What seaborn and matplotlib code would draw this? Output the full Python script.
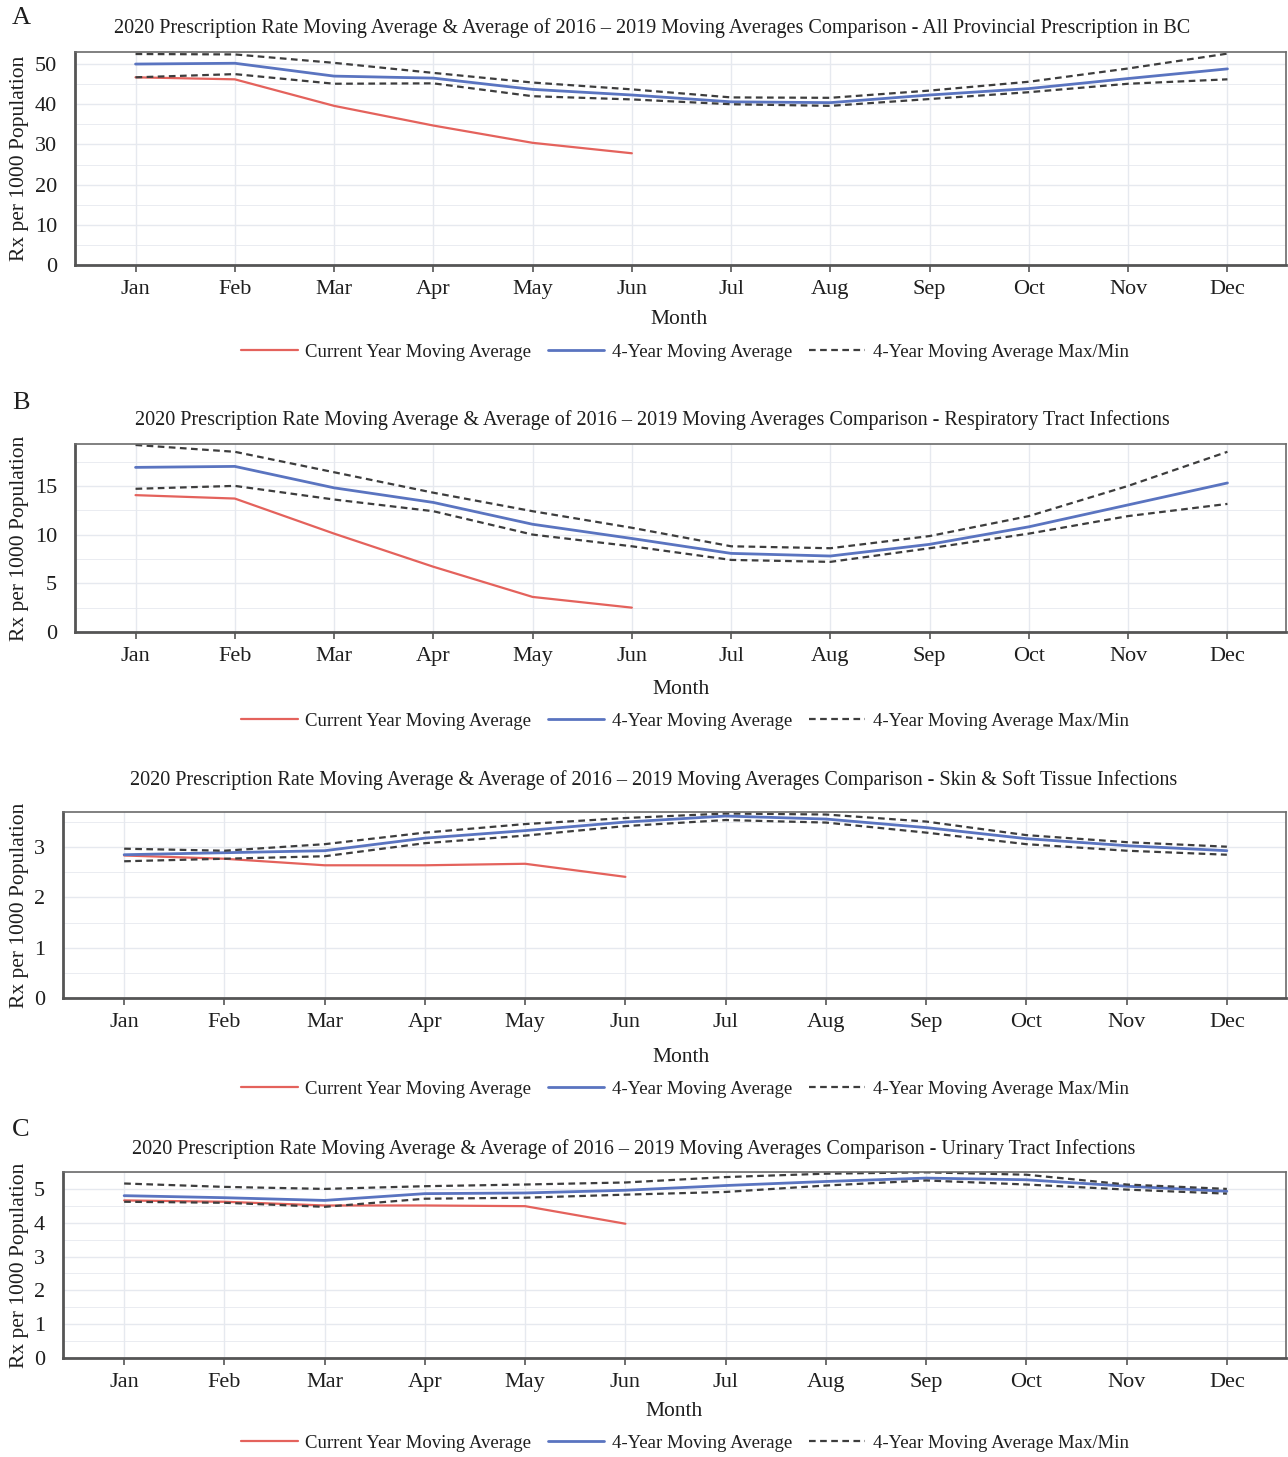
import matplotlib
matplotlib.use("Agg")
import matplotlib.pyplot as plt
from matplotlib.ticker import MultipleLocator
import pandas as pd
import seaborn as sns

months = ["Jan", "Feb", "Mar", "Apr", "May", "Jun",
          "Jul", "Aug", "Sep", "Oct", "Nov", "Dec"]
month_idx = list(range(1, 13))

title_base = "2020 Prescription Rate Moving Average & Average of 2016 \u2013 2019 Moving Averages Comparison - "
panel_names = ["All Provincial Prescription in BC", "Respiratory Tract Infections",
               "Skin & Soft Tissue Infections", "Urinary Tract Infections"]
panel_letters = ["A", "B", "", "C"]

# all provincial
all_current = [46.7, 46.2, 39.6, 34.7, 30.4, 27.8]
all_avg = [50.0, 50.2, 47.0, 46.5, 43.7, 42.3, 40.6, 40.4, 42.3, 43.9, 46.4, 48.8]
all_max = [52.5, 52.4, 50.3, 47.8, 45.4, 43.7, 41.7, 41.6, 43.4, 45.6, 48.9, 52.6]
all_min = [46.7, 47.5, 45.1, 45.2, 42.0, 41.2, 40.0, 39.6, 41.3, 43.0, 45.1, 46.2]

# respiratory
resp_current = [14.05, 13.7, 10.1, 6.7, 3.6, 2.5]
resp_avg = [16.9, 17.0, 14.8, 13.3, 11.06, 9.6, 8.07, 7.8, 9.0, 10.8, 13.05, 15.3]
resp_max = [19.2, 18.5, 16.4, 14.3, 12.4, 10.7, 8.8, 8.6, 9.85, 11.9, 15.0, 18.5]
resp_min = [14.7, 15.0, 13.6, 12.4, 10.0, 8.8, 7.4, 7.2, 8.6, 10.1, 11.9, 13.15]

# skin & soft tissue
skin_current = [2.835, 2.77, 2.64, 2.64, 2.67, 2.41]
skin_avg = [2.85, 2.89, 2.93, 3.18, 3.33, 3.50, 3.62, 3.56, 3.39, 3.17, 3.03, 2.93]
skin_max = [2.97, 2.93, 3.06, 3.29, 3.46, 3.58, 3.67, 3.65, 3.51, 3.24, 3.10, 3.01]
skin_min = [2.72, 2.77, 2.82, 3.08, 3.23, 3.42, 3.54, 3.49, 3.29, 3.06, 2.93, 2.85]

# urinary
uti_current = [4.66, 4.62, 4.51, 4.51, 4.49, 3.97]
uti_avg = [4.80, 4.74, 4.66, 4.86, 4.88, 4.96, 5.10, 5.22, 5.32, 5.27, 5.08, 4.93]
uti_max = [5.16, 5.06, 5.00, 5.08, 5.13, 5.19, 5.35, 5.45, 5.49, 5.42, 5.13, 5.00]
uti_min = [4.62, 4.59, 4.47, 4.71, 4.74, 4.83, 4.91, 5.10, 5.25, 5.13, 4.98, 4.86]

panels = [
    (all_current, all_avg, all_max, all_min),
    (resp_current, resp_avg, resp_max, resp_min),
    (skin_current, skin_avg, skin_max, skin_min),
    (uti_current, uti_avg, uti_max, uti_min),
]
y_limits = [(0, 53), (0, 19.3), (0, 3.7), (0, 5.5)]
y_steps = [10, 5, 1, 1]

sns.set_theme(style="white")
plt.rcParams["font.family"] = ["Liberation Serif", "DejaVu Serif"]

W, H = 1288, 1457
fig = plt.figure(figsize=(W / 100, H / 100), dpi=100)

# pixel layout: left, top, bottom of each axes; title/month/legend centres
boxes = [(75, 52, 265), (75, 444, 632), (63, 812, 998), (63, 1172, 1358)]
title_pos = [(652, 28), (652, 420), (654, 780), (634, 1149)]
month_pos = [(679, 319), (681, 690), (681, 1057), (674, 1412)]
legend_y = [352, 721, 1089, 1443]
letter_y = [18, 403, None, 1130]

red = "#e4625c"
blue = "#5a74c0"
grey = "#3d3d3d"
grid_col = "#e6e9ef"
text_col = "#1e1e1e"

for i, (cur, avg, hi, lo) in enumerate(panels):
    left, top, bottom = boxes[i]
    right = 1286
    ax = fig.add_axes([left / W, 1 - bottom / H, (right - left) / W, (bottom - top) / H])
    df = pd.DataFrame({"month": month_idx, "avg": avg, "max": hi, "min": lo})
    df_cur = pd.DataFrame({"month": month_idx[:len(cur)], "cur": cur})

    sns.lineplot(data=df_cur, x="month", y="cur", color=red, lw=1.6,
                 label="Current Year Moving Average", ax=ax)
    sns.lineplot(data=df, x="month", y="avg", color=blue, lw=2.0,
                 label="4-Year Moving Average", ax=ax)
    sns.lineplot(data=df, x="month", y="max", color=grey, lw=1.6,
                 linestyle=(0, (3, 2)), label="4-Year Moving Average Max/Min", ax=ax)
    sns.lineplot(data=df, x="month", y="min", color=grey, lw=1.6,
                 linestyle=(0, (3, 2)), ax=ax)

    ax.set_xlim(0.39, 12.59)
    ax.set_ylim(*y_limits[i])
    ax.set_xticks(month_idx)
    ax.set_xticklabels(months)
    ax.yaxis.set_major_locator(MultipleLocator(y_steps[i]))
    ax.yaxis.set_minor_locator(MultipleLocator(y_steps[i] / 2))
    ax.grid(True, which="major", color=grid_col, lw=1.0)
    ax.grid(True, which="minor", axis="y", color=grid_col, lw=0.6)
    ax.set_axisbelow(True)
    for side, sp in ax.spines.items():
        sp.set_color("#6b6b6b")
        sp.set_linewidth(1.2)
    ax.spines["left"].set_color("#555555")
    ax.spines["bottom"].set_color("#555555")
    ax.spines["left"].set_linewidth(2.0)
    ax.spines["bottom"].set_linewidth(2.0)
    ax.tick_params(axis="x", which="major", bottom=True, length=5, width=1.2,
                   color="#555555", labelsize=16, pad=6, labelcolor=text_col)
    ax.tick_params(axis="y", which="both", left=False, labelsize=16, pad=7,
                   labelcolor=text_col)
    ax.set_xlabel("")
    ax.set_ylabel("Rx per 1000 Population", fontsize=15.5, color=text_col)
    ax.yaxis.set_label_coords((29 - left) / (right - left), 0.5)

    handles, labels = ax.get_legend_handles_labels()
    leg = ax.legend(handles, labels, loc="center", ncol=3, frameon=False,
                    fontsize=13.5, handlelength=3.0, handletextpad=0.4,
                    columnspacing=0.9,
                    bbox_to_anchor=(685 / W, 1 - legend_y[i] / H),
                    bbox_transform=fig.transFigure)
    for t in leg.get_texts():
        t.set_color(text_col)

    tx, ty = title_pos[i]
    fig.text(tx / W, 1 - ty / H, title_base + panel_names[i], ha="center", va="center",
             fontsize=14.5, color=text_col)
    mx, my = month_pos[i]
    fig.text(mx / W, 1 - my / H, "Month", ha="center", va="center", fontsize=15.5,
             color=text_col)
    if panel_letters[i]:
        fig.text(12 / W, 1 - letter_y[i] / H, panel_letters[i], ha="left", va="center",
                 fontsize=19, color=text_col)

fig.savefig("out.png", dpi=100)
